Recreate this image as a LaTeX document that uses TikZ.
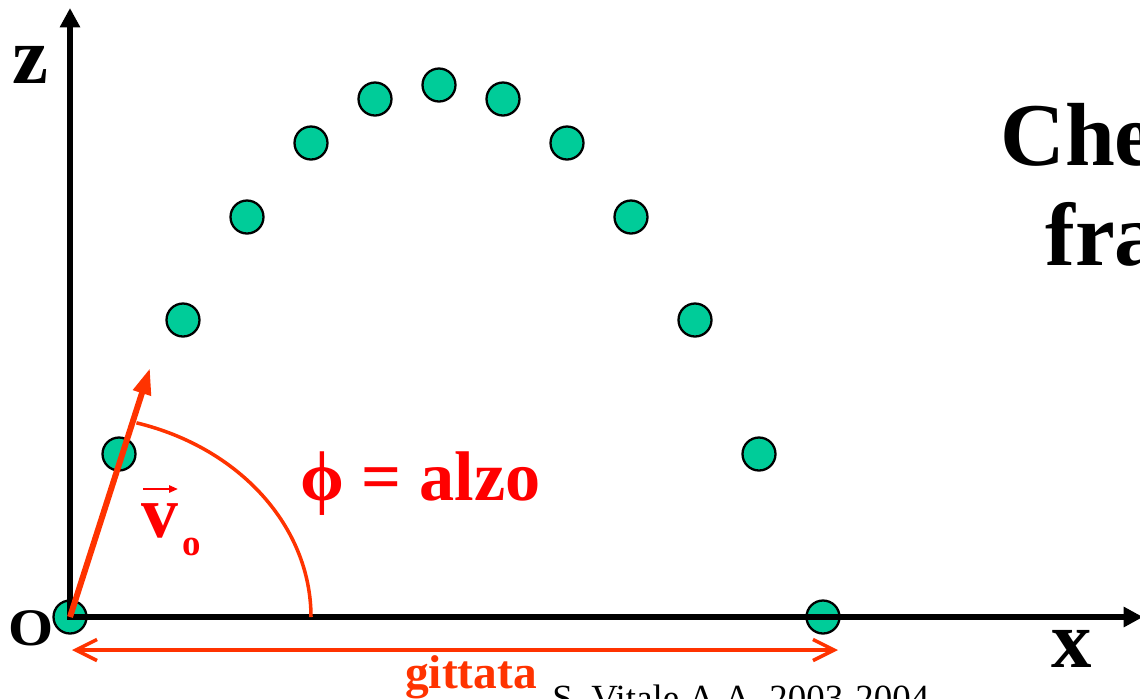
\documentclass[tikz,border=0pt]{standalone}
\usepackage{fontspec}
\setmainfont{Liberation Serif}
\usetikzlibrary{arrows.meta}
\definecolor{ballGreen}{HTML}{00CC99}
\definecolor{vecRed}{HTML}{FF3300}
\definecolor{lblRed}{HTML}{FF0000}
\tikzset{
  ball/.style={circle, draw=black, fill=ballGreen, line width=1.3pt,
               minimum size=0.66cm, inner sep=0pt},
  axis/.style={{Triangle[length=11pt, width=11pt]}-{Triangle[length=11pt, width=11pt]},
               line width=3.2pt},
  vel/.style={-{Triangle[length=15pt, width=10pt]}, vecRed, line width=3.4pt},
  ang/.style={vecRed, line width=2pt},
  rangearrow/.style={{Straight Barb[length=12pt, width=12pt]}-{Straight Barb[length=12pt, width=12pt]},
               vecRed, line width=2pt},
  lbl/.style={inner sep=0pt, anchor=base, font=\bfseries\fontsize{#1}{#1}\selectfont},
  lbl/.default=46pt,
}
\begin{document}
\begin{tikzpicture}[x=0.02cm, y=-0.02cm]
    \useasboundingbox (0,0) rectangle (1140,698);
    \clip (0,0) rectangle (1140,698);
    % trajectory points
    \node[ball] (b1) at (70,617) {};
    \node[ball] (b2) at (119,454) {};
    \node[ball] (b3) at (183,320) {};
    \node[ball] (b4) at (247,217) {};
    \node[ball] (b5) at (311,143) {};
    \node[ball] (b6) at (375,99) {};
    \node[ball] (b7) at (439,85) {};
    \node[ball] (b8) at (503,99) {};
    \node[ball] (b9) at (567,143) {};
    \node[ball] (b10) at (631,217) {};
    \node[ball] (b11) at (695,320) {};
    \node[ball] (b12) at (759,454) {};
    \node[ball] (b13) at (823,617) {};
    \coordinate (ztip) at (70,8);
    \coordinate (xtip) at (1143,617);
    \coordinate (vtip) at (150,368);
    \coordinate (arcS) at (311,617);
    \coordinate (gL) at (72,650);
    \coordinate (gR) at (838,650);
    \coordinate (accL) at (143,489);
    \coordinate (accR) at (178,489);
    \draw[axis] (ztip) -- (b1.center) -- (xtip);
    \draw[ang] (arcS) arc[start angle=0, end angle=-74, x radius=241, y radius=202];
    \draw[vel] (b1.center) -- (vtip);
    \draw[rangearrow] (gL) -- (gR);
    \node[lbl] (zlab) at (30,83) {z};
    \node[lbl] (xlab) at (1072,667) {x};
    \node[lbl=30pt, xscale=1.1] (olab) at (31,645) {O};
    \node[lbl=40pt, anchor=base west, text=lblRed] (alzo) at (300,500) {ϕ = alzo};
    \node[lbl=42pt, text=lblRed] (vlab) at (160,537) {v};
    \node[lbl=21pt, text=lblRed] (vsub) at (192,555) {o};
    \draw[-{Triangle[length=5pt, width=4pt]}, lblRed, line width=1.2pt] (accL) -- (accR);
    \node[lbl=27pt, text=vecRed] (gitt) at (471,688) {gittata};
    \node[inner sep=0pt, anchor=base west, font=\fontsize{21pt}{21pt}\selectfont]
      (auth) at (552,710) {S. Vitale A.A. 2003-2004};
    \node[lbl=51pt, anchor=base west] (che) at (1000,165) {Che};
    \node[lbl=51pt, anchor=base west] (fra) at (1045,265) {fra};
\end{tikzpicture}
\end{document}
